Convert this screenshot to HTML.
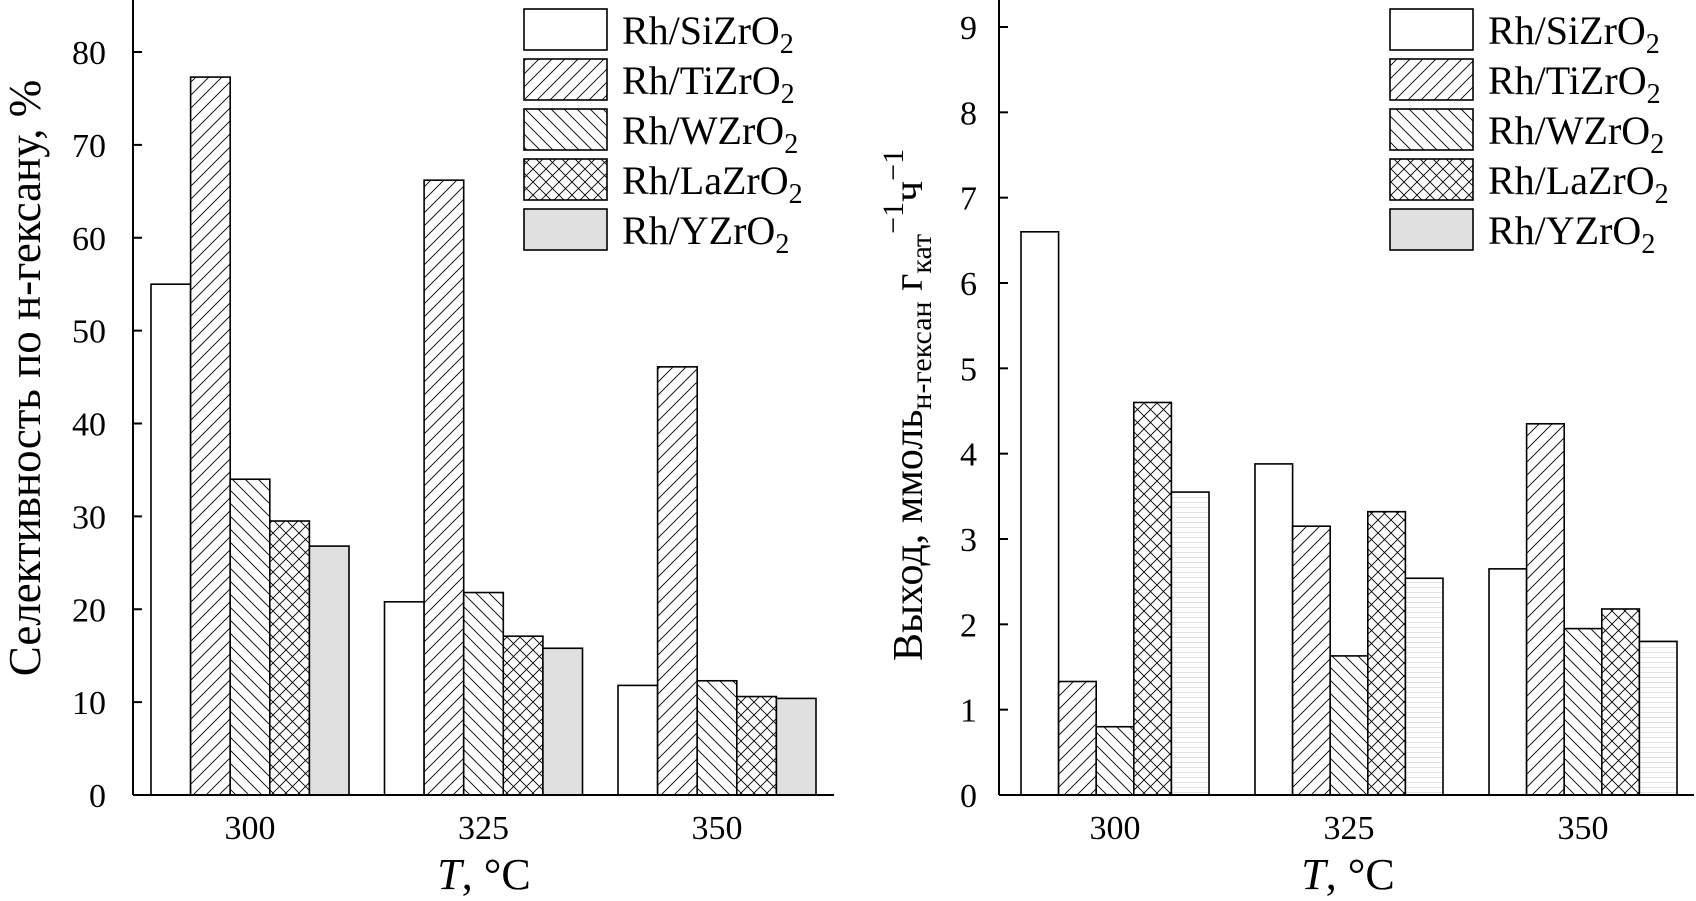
<!DOCTYPE html>
<html><head><meta charset="utf-8"><style>
html,body{margin:0;padding:0;background:#fff;}
svg{display:block;font-family:"Liberation Serif","DejaVu Serif",serif;}
</style></head><body>
<svg id="chart" width="1696" height="901" viewBox="0 0 1696 901" xmlns="http://www.w3.org/2000/svg">
<defs>
<pattern id="p-fwd" patternUnits="userSpaceOnUse" width="13" height="13">
<rect width="13" height="13" fill="#fff"/><path d="M-1,14 L14,-1 M-7,7 L7,-7 M6,20 L20,6" stroke="#000" stroke-width="0.9"/></pattern>
<pattern id="p-back" patternUnits="userSpaceOnUse" width="13" height="13">
<rect width="13" height="13" fill="#fff"/><path d="M-1,-1 L14,14 M-7,6 L7,20 M6,-7 L20,7" stroke="#000" stroke-width="0.9"/></pattern>
<pattern id="p-cross" patternUnits="userSpaceOnUse" width="13" height="13">
<rect width="13" height="13" fill="#fff"/><path d="M-1,-1 L14,14 M-1,14 L14,-1" stroke="#000" stroke-width="0.9"/></pattern>
<pattern id="p-lines" patternUnits="userSpaceOnUse" width="10" height="5">
<rect width="10" height="5" fill="#fff"/><path d="M0,2.5 L10,2.5" stroke="#ddd" stroke-width="0.8"/></pattern>
</defs>
<g id="left"></g>
<g id="right"></g>
</svg>
<script>
const categories = ["300", "325", "350"];
const seriesNames = ["Rh/SiZrO", "Rh/TiZrO", "Rh/WZrO", "Rh/LaZrO", "Rh/YZrO"];
const selSi = [55, 20.8, 11.8];
const selTi = [77.3, 66.2, 46.1];
const selW = [34, 21.8, 12.3];
const selLa = [29.5, 17.1, 10.6];
const selY = [26.8, 15.8, 10.4];
const yieldSi = [6.6, 3.88, 2.65];
const yieldTi = [1.33, 3.15, 4.35];
const yieldW = [0.8, 1.63, 1.95];
const yieldLa = [4.6, 3.32, 2.18];
const yieldY = [3.55, 2.54, 1.8];
const leftTicks = [0, 10, 20, 30, 40, 50, 60, 70, 80];
const rightTicks = [0, 1, 2, 3, 4, 5, 6, 7, 8, 9];

const NS = "http://www.w3.org/2000/svg";
function mk(parent, tag, attrs, text) {
  const e = document.createElementNS(NS, tag);
  for (const k in attrs) e.setAttribute(k, attrs[k]);
  if (text !== undefined) e.textContent = text;
  parent.appendChild(e);
  return e;
}

function drawChart(g, cfg) {
  const yScale = v => cfg.y0 - v * cfg.pxPerUnit;
  const fills = ["#fff", "url(#p-fwd)", "url(#p-back)", "url(#p-cross)", cfg.yFill];
  const legendFills = ["#fff", "url(#p-fwd)", "url(#p-back)", "url(#p-cross)", "#e0e0e0"];
  cfg.series.forEach((vals, si) => {
    vals.forEach((v, ci) => {
      const x = cfg.groupStart + ci * cfg.groupStep + si * cfg.barW;
      const r = mk(g, "rect", {x: x, y: yScale(v), width: cfg.barW, height: cfg.y0 - yScale(v), fill: fills[si], stroke: "#000", "stroke-width": 1.6});
      
      
    });
  });
  const ya = mk(g, "line", {x1: cfg.axisX, y1: 0, x2: cfg.axisX, y2: cfg.y0, stroke: "#000", "stroke-width": 2});
  
  
  const xa = mk(g, "line", {x1: cfg.axisX, y1: cfg.y0, x2: cfg.axisEnd, y2: cfg.y0, stroke: "#000", "stroke-width": 2});
  
  
  cfg.ticks.forEach(t => {
    const y = yScale(t);
    mk(g, "line", {x1: cfg.axisX, y1: y, x2: cfg.axisX + 9, y2: y, stroke: "#000", "stroke-width": 2});
    const tl = mk(g, "text", {x: cfg.tickLabelX, y: y + 12, "text-anchor": "end", "font-size": 34}, String(t));
    
    
  });
  categories.forEach((c, ci) => {
    const cx = cfg.groupStart + ci * cfg.groupStep + cfg.barW * 2.5;
    const tl = mk(g, "text", {x: cx, y: 839, "text-anchor": "middle", "font-size": 34}, c);
    
    
  });
  const xt = mk(g, "text", {x: cfg.xTitleX, y: 889, "text-anchor": "middle", "font-size": 44});
  
  
  mk(xt, "tspan", {"font-style": "italic"}, "T");
  mk(xt, "tspan", {}, ", °C");
  seriesNames.forEach((n, si) => {
    const y = 9 + si * 50;
    const r = mk(g, "rect", {x: cfg.legX, y: y, width: 83, height: 41, fill: legendFills[si], stroke: "#000", "stroke-width": 1.6});
    
    
    const t = mk(g, "text", {x: cfg.legX + 98, y: y + 35, "font-size": 40}, n);
    
    
    mk(t, "tspan", {"font-size": 28, dy: 9}, "2");
  });
}

const L = document.getElementById("left");
drawChart(L, {y0: 795, pxPerUnit: (795 - 52) / 80, axisX: 133, axisEnd: 834, groupStart: 151, groupStep: 233.5, barW: 39.6,
  series: [selSi, selTi, selW, selLa, selY], ticks: leftTicks, tickLabelX: 106, xTitleX: 484, legX: 524, yFill: "#e0e0e0"});
const lt = mk(L, "text", {transform: "translate(40,378) rotate(-90)", "text-anchor": "middle", "font-size": 45}, "Селективность по н-гексану, %");



const R = document.getElementById("right");
drawChart(R, {y0: 795, pxPerUnit: (795 - 27) / 9, axisX: 999, axisEnd: 1694, groupStart: 1021, groupStep: 234, barW: 37.6,
  series: [yieldSi, yieldTi, yieldW, yieldLa, yieldY], ticks: rightTicks, tickLabelX: 977, xTitleX: 1348, legX: 1390, yFill: "url(#p-lines)"});
const rt = mk(R, "text", {transform: "translate(922,405) rotate(-90)", "text-anchor": "middle", "font-size": 42});


mk(rt, "tspan", {}, "Выход, ммоль");
mk(rt, "tspan", {"font-size": 30, dy: 9}, "н-гексан");
mk(rt, "tspan", {dy: -9}, " г");
mk(rt, "tspan", {"font-size": 30, dy: 9}, "кат");
mk(rt, "tspan", {"font-size": 30, dy: -28}, "−1");
mk(rt, "tspan", {dy: 19}, "ч");
mk(rt, "tspan", {"font-size": 30, dy: -19}, "−1");
</script>
</body></html>
